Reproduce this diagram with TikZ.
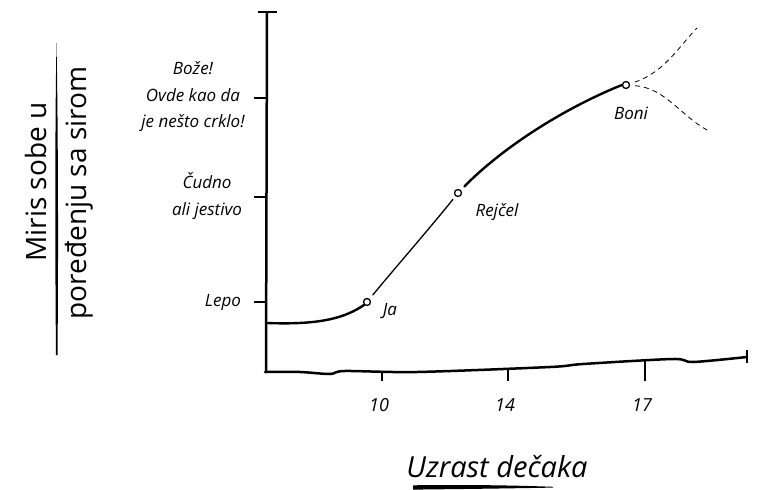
\documentclass[tikz,border=0pt]{standalone}
\usepackage{fontspec}
\setmainfont{Open Sans}

\tikzset{
  osa/.style={line width=2.5pt,line cap=round,line join=round},
  crtica/.style={line width=1.3pt},
  debela/.style={line width=2.4pt,line cap=round},
  tanka/.style={line width=1.3pt,line cap=round},
  isprekidana/.style={line width=0.8pt,dash pattern=on 5pt off 4pt},
  tacka/.style={circle,draw,line width=1.3pt,fill=white,inner sep=0pt,minimum size=7pt},
  oznaka/.style={font=\fontsize{17}{26.5}\selectfont\itshape,align=center},
  broj/.style={font=\fontsize{18}{20}\selectfont\itshape},
  naslov/.style={font=\fontsize{28}{32}\selectfont},
}

\begin{document}
\begin{tikzpicture}[x=1pt,y=-1pt]
    \useasboundingbox (0,0) rectangle (758,490);

    % y osa sa kapicom na vrhu
    \coordinate (yvrh) at (267,12);
    \coordinate (ydno) at (266,372);
    \draw[osa] (yvrh) -- (ydno);
    \draw[crtica] (258,12) -- (277,12);

    % podeoci i opisi na y osi
    \foreach \y in {98,197,302} {
        \draw[crtica] (254,\y) -- (267,\y);
    }
    \node[oznaka] (boze) at (193,97) {Bože!\\Ovde kao da\\je nešto crklo!};
    \node[oznaka] (cudno) at (207,196) {Čudno\\ali jestivo};
    \node[oznaka] (lepo) at (223,302) {Lepo};

    % x osa (malo talasasta)
    \draw[osa] plot[smooth] coordinates {(265,372) (300,372) (330,374) (345,371) (417,372) (550,367) (583,364) (673,359) (693,362) (747,357)};
    \draw[crtica] (747,350) -- (747,363);

    % podeoci i godine na x osi
    \foreach \x/\y/\god in {382/372/10,508/369/14,645/361/17} {
        \draw[crtica] (\x,\y) -- (\x,381);
        \node[broj] (god\god) at (\x-3,405) {\god};
    }

    % naslovi osa
    \node[naslov,font=\fontsize{29}{32}\selectfont\itshape] (xnaslov) at (497,467) {Uzrast dečaka};
    \fill (413,485.3) .. controls (470,484.5) and (520,485.5) .. (553,486.8)
          -- (553,487.6) .. controls (520,488.2) and (470,489) .. (413,489.6) -- cycle;
    \node[naslov,rotate=90] (ynaslov1) at (36,182) {Miris sobe u};
    \node[naslov,rotate=90] (ynaslov2) at (79,193) {poređenju sa sirom};
    \fill (56.5,43) .. controls (58,120) and (58.5,250) .. (57.5,355)
          -- (56,355) .. controls (55,250) and (55,120) .. (56.5,43) -- cycle;

    % tacke na krivoj
    \coordinate (pocetak) at (267,323);
    \node[tacka] (ja) at (367,302) {};
    \node[tacka] (rejcel) at (458,193) {};
    \node[tacka] (boni) at (626,85) {};
    \node[oznaka] (jaT) at (390,311) {Ja};
    \node[oznaka] (rejcelT) at (497,212) {Rejčel};
    \node[oznaka] (boniT) at (631,113) {Boni};

    % kriva
    \draw[debela] (pocetak) .. controls (320,325) and (345,318) .. (ja.south west);
    \draw[tanka,shorten <=5pt,shorten >=4pt] (ja) .. controls (395,268) and (430,228) .. (rejcel);
    \draw[debela,shorten <=5pt] (rejcel) .. controls (500,150) and (560,110) .. (boni.west);

    % dve moguce putanje posle Boni
    \coordinate (gore) at (697,28);
    \coordinate (dole) at (707,130);
    \draw[isprekidana,shorten <=5pt] (boni) .. controls (665,72) and (680,45) .. (gore);
    \draw[isprekidana,shorten <=5pt] (boni) .. controls (665,88) and (680,115) .. (dole);
\end{tikzpicture}
\end{document}
